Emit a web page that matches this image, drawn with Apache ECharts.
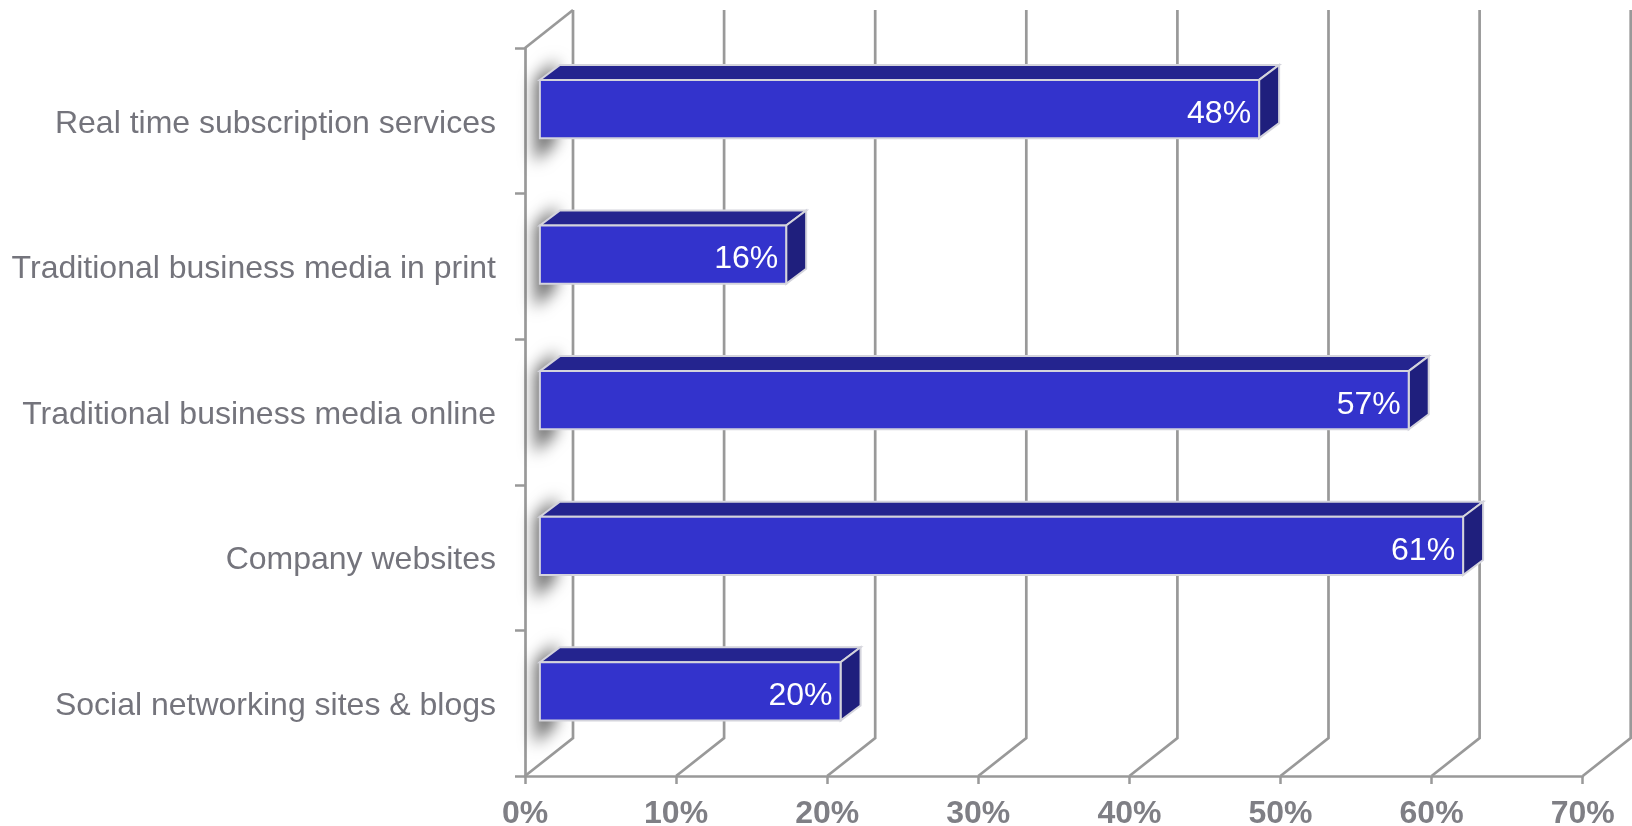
<!DOCTYPE html>
<html>
<head>
<meta charset="utf-8">
<script src="https://cdn.jsdelivr.net/npm/echarts@6/dist/echarts.min.js"></script>
<style>
html,body{margin:0;padding:0;background:#fff;}
#chart{width:1632px;height:826px;}
</style>
</head>
<body>
<div id="chart"></div>
<script>
const categories = [
  'Real time subscription services',
  'Traditional business media in print',
  'Traditional business media online',
  'Company websites',
  'Social networking sites & blogs'
];
const values = [47.6, 16.3, 57.5, 61.1, 19.9];
const labels = ['48%', '16%', '57%', '61%', '20%'];
const xTicks = [0, 10, 20, 30, 40, 50, 60, 70];

const FONT = 'Liberation Sans, Arial, Helvetica, sans-serif';
const GRID_COLOR = '#999999';
// floor/wall depth vector (px)
const WDX = 48, WDY = -38;
// bar depth placement
const BAR_F = 0.31;          // fraction of wall depth where bar front sits
const BDX = 20, BDY = -15;   // bar depth vector
const BAR_HALF = 0.2;        // half-height as fraction of band
const OFF = 4000;            // offscreen shift for shadow-only shapes

const chart = echarts.init(document.getElementById('chart'), null, {renderer: 'canvas'});

const option = {
  animation: false,
  backgroundColor: '#ffffff',
  grid: {left: 525, right: 49.3, top: 48, bottom: 50, containLabel: false, outerBoundsMode: 'none'},
  xAxis: {
    type: 'value', min: 0, max: 70, interval: 10,
    axisLine: {show: true, lineStyle: {color: GRID_COLOR, width: 2.7}},
    axisTick: {show: true, length: 8, lineStyle: {color: GRID_COLOR, width: 2.5}},
    splitLine: {show: false},
    axisLabel: {
      formatter: '{value}%', fontFamily: FONT, fontSize: 32, fontWeight: 'bold',
      color: '#7f7f85', margin: 22
    }
  },
  yAxis: {
    type: 'category', data: categories, inverse: true,
    axisLine: {show: true, lineStyle: {color: GRID_COLOR, width: 2.7}},
    axisTick: {show: true, length: 10, lineStyle: {color: GRID_COLOR, width: 2.5}},
    axisLabel: {
      fontFamily: FONT, fontSize: 32, color: '#74747c', margin: 29,
      formatter: function (v) { return '{t|' + v + '}'; },
      rich: {t: {fontFamily: FONT, fontSize: 32, color: '#74747c', padding: [6, 0, 0, 0]}}
    }
  },
  series: [
    {
      type: 'custom', z: 1, silent: true,
      data: xTicks.map(v => [v]),
      encode: {x: 0},
      renderItem: function (params, api) {
        const v = api.value(0);
        const cs = params.coordSys;
        const top = cs.y, bottom = cs.y + cs.height;
        const x = api.coord([v, 0])[0];
        const style = {stroke: GRID_COLOR, lineWidth: 2.7, fill: null, lineJoin: 'miter'};
        const children = [{
          type: 'polyline',
          shape: {points: [[x, bottom], [x + WDX, bottom + WDY], [x + WDX, top + WDY]]},
          style: style
        }];
        if (v === xTicks[0]) {
          children.push({type: 'line', shape: {x1: x, y1: top, x2: x + WDX, y2: top + WDY}, style: style});
        }
        return {type: 'group', children: children};
      }
    },
    {
      type: 'custom', z: 3, silent: true,
      data: values.map((v, i) => [v, i]),
      encode: {x: 0, y: 1},
      renderItem: function (params, api) {
        const v = api.value(0), idx = api.value(1);
        const base = api.coord([0, idx]);
        const end = api.coord([v, idx]);
        const band = api.size([0, 1])[1];
        const h = band * BAR_HALF;
        const ox = BAR_F * WDX, oy = BAR_F * WDY;
        const fx0 = base[0] + ox, fx1 = end[0] + ox;
        const yc = base[1] + oy;
        const ft = yc - h, fb = yc + h;
        const edge = {stroke: '#d4d4dc', lineWidth: 2};
        return {
          type: 'group',
          children: [
            { // soft shadow cast on the wall (shape offscreen, only its shadow shows)
              type: 'polygon',
              shape: {points: [[fx0 - 5 - OFF, ft], [fx0 + 16 - OFF, ft - 20], [fx0 + 16 - OFF, fb + 4], [fx0 - 5 - OFF, fb + 24]]},
              style: {fill: '#000', shadowBlur: 16, shadowColor: 'rgba(0,0,0,0.6)', shadowOffsetX: OFF, shadowOffsetY: 0}
            },
            { // top face
              type: 'polygon',
              shape: {points: [[fx0, ft], [fx1, ft], [fx1 + BDX, ft + BDY], [fx0 + BDX, ft + BDY]]},
              style: Object.assign({fill: '#24248f'}, edge)
            },
            { // side face
              type: 'polygon',
              shape: {points: [[fx1, ft], [fx1 + BDX, ft + BDY], [fx1 + BDX, fb + BDY], [fx1, fb]]},
              style: Object.assign({fill: '#1f1f7d'}, edge)
            },
            { // front face
              type: 'rect',
              shape: {x: fx0, y: ft, width: fx1 - fx0, height: fb - ft},
              style: Object.assign({fill: '#3333cc'}, edge)
            },
            {
              type: 'text',
              style: {
                text: labels[idx], x: fx1 - 8, y: yc + 5,
                align: 'right', verticalAlign: 'middle',
                fill: '#ffffff', font: '32px ' + FONT
              }
            }
          ]
        };
      }
    }
  ]
};
chart.setOption(option);
</script>
</body>
</html>
